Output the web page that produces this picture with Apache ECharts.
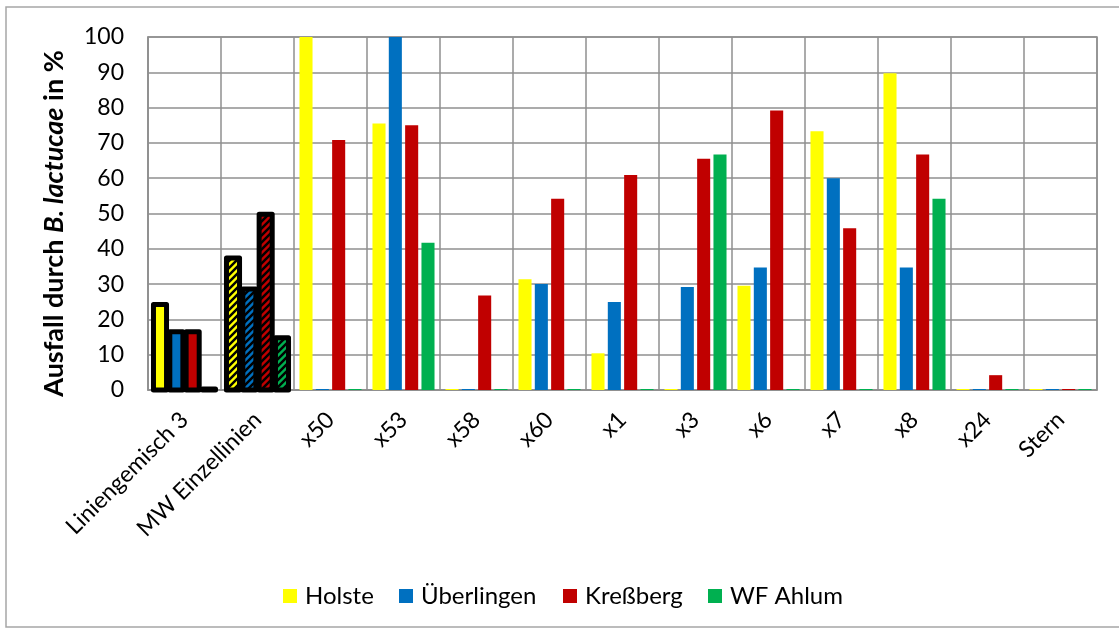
<!DOCTYPE html>
<html>
<head>
<meta charset="utf-8">
<script src="https://cdn.jsdelivr.net/npm/echarts@6/dist/echarts.min.js"></script>
<style>
  html, body { margin: 0; padding: 0; background: #fff; }
  #chart { width: 1119px; height: 630px; }
</style>
</head>
<body>
<div id="chart"></div>
<script>
// Lines / mixtures tested at four sites
const categories = ['Liniengemisch 3', 'MW Einzellinien', 'x50', 'x53', 'x58', 'x60', 'x1', 'x3', 'x6', 'x7', 'x8', 'x24', 'Stern'];

// Loss caused by B. lactucae (%) per site
const holste      = [24.2, 37.4, 100, 75.5, 0, 31.4, 10.4, 0, 29.5, 73.3, 89.7, 0, 0];
const ueberlingen = [16.5, 28.6, 0, 100, 0, 30.0, 24.9, 29.2, 34.7, 60.0, 34.7, 0, 0];
const kressberg   = [16.5, 49.8, 70.8, 75.0, 26.8, 54.2, 60.9, 65.5, 79.2, 45.8, 66.7, 4.2, 0];
const wfAhlum     = [0, 14.8, 0, 41.7, 0, 0, 0, 66.7, 0, 0, 54.2, 0, 0];

const yTicks = [0, 10, 20, 30, 40, 50, 60, 70, 80, 90, 100];

const seriesDefs = [
  { name: 'Holste', color: '#FFFF00', data: holste },
  { name: 'Überlingen', color: '#0070C0', data: ueberlingen },
  { name: 'Kreßberg', color: '#C00000', data: kressberg },
  { name: 'WF Ahlum', color: '#00B050', data: wfAhlum }
];

// categories drawn with a heavy outline (the mixture and the mean of single lines)
const outlinedCats = [0, 1];
const hatchedCats = [1];

const FONT = 'Lato';
const GRID = '#8f8f8f';
const CAT_GAP = 0.15;
const BAR_GAP = 0.25;

// diagonal black hatch on top of the series colour
function hatch(color) {
  const s = 7;
  const c = document.createElement('canvas');
  c.width = s; c.height = s;
  const g = c.getContext('2d');
  g.fillStyle = color;
  g.fillRect(0, 0, s, s);
  g.strokeStyle = '#000';
  g.lineWidth = 2.5;
  g.beginPath();
  g.moveTo(-2, s + 2); g.lineTo(s + 2, -2);
  g.moveTo(-2, 2); g.lineTo(2, -2);
  g.moveTo(s - 2, s + 2); g.lineTo(s + 2, s - 2);
  g.stroke();
  return { image: c, repeat: 'repeat' };
}

function buildData(def) {
  return def.data.map((v, i) => {
    if (hatchedCats.includes(i)) {
      return { value: v, itemStyle: { color: hatch(def.color) } };
    }
    return v;
  });
}

// outline records: [category index, series index, value]
const outlineData = [];
outlinedCats.forEach(ci => {
  seriesDefs.forEach((def, si) => outlineData.push([ci, si, def.data[ci]]));
});

function renderOutline(params, api) {
  const cat = api.value(0);
  const si = api.value(1);
  const v = api.value(2);
  const n = seriesDefs.length;
  const catW = api.size([1, 0])[0];
  const band = catW * (1 - CAT_GAP);
  const bw = band / (n + (n - 1) * BAR_GAP);
  const base = api.coord([cat, 0]);
  const top = api.coord([cat, v]);
  const x = base[0] - band / 2 + si * bw * (1 + BAR_GAP);
  const h = Math.max(base[1] - top[1], 1);
  return {
    type: 'rect',
    shape: { x: x, y: base[1] - h, width: bw, height: h },
    style: { fill: 'none', stroke: '#000', lineWidth: 5, lineJoin: 'round' }
  };
}

const chart = echarts.init(document.getElementById('chart'), null, { renderer: 'canvas' });

// one legend block per entry so that each entry sits at its own place
const legendLefts = [283, 399, 563, 708];

chart.setOption({
  animation: false,
  backgroundColor: '#fff',
  textStyle: { fontFamily: FONT },
  graphic: [{
    type: 'rect',
    shape: { x: 6, y: 7, width: 1200, height: 620 },
    style: { fill: 'none', stroke: '#a6a6a6', lineWidth: 1.5 },
    silent: true,
    z: -1
  }],
  grid: {
    left: 148, right: 22, top: 37, bottom: 240, containLabel: false,
    show: true, borderColor: GRID, borderWidth: 1.5, backgroundColor: 'transparent'
  },
  legend: seriesDefs.map((def, i) => ({
    left: legendLefts[i],
    top: 584,
    padding: 0,
    itemWidth: 14,
    itemHeight: 14,
    icon: 'rect',
    textStyle: { fontFamily: FONT, fontSize: 24, color: '#000', padding: [0, 0, 0, 3] },
    data: [def.name]
  })),
  xAxis: {
    type: 'category',
    data: categories,
    axisLine: { show: true, lineStyle: { color: GRID, width: 1.5 } },
    axisTick: { show: false },
    splitLine: { show: true, interval: 0, lineStyle: { color: GRID, width: 1.5 } },
    axisLabel: {
      interval: 0,
      rotate: 45,
      margin: 26,
      fontFamily: FONT,
      fontSize: 23,
      color: '#000'
    }
  },
  yAxis: {
    type: 'value',
    min: yTicks[0],
    max: yTicks[yTicks.length - 1],
    interval: 10,
    axisLine: { show: true, lineStyle: { color: GRID, width: 1.5 } },
    axisTick: { show: false },
    splitLine: { show: true, lineStyle: { color: GRID, width: 1.5 } },
    axisLabel: { fontFamily: FONT, fontSize: 23, color: '#000', margin: 24 },
    name: '{b|Ausfall durch }{bi|B. lactucae}{b| in %}',
    nameLocation: 'middle',
    nameRotate: 90,
    nameGap: 80,
    nameTextStyle: {
      padding: [0, 20, 0, 0],
      rich: {
        b: { fontFamily: FONT, fontSize: 27, fontWeight: 'bold', color: '#000' },
        bi: { fontFamily: FONT, fontSize: 27, fontWeight: 'bold', fontStyle: 'italic', color: '#000' }
      }
    }
  },
  series: seriesDefs.map(def => ({
    name: def.name,
    type: 'bar',
    barGap: (BAR_GAP * 100) + '%',
    barCategoryGap: (CAT_GAP * 100) + '%',
    barMinHeight: 1,
    itemStyle: { color: def.color },
    data: buildData(def)
  })).concat([{
    type: 'custom',
    renderItem: renderOutline,
    encode: { x: 0, y: 2 },
    data: outlineData,
    z: 5,
    silent: true
  }])
});
</script>
</body>
</html>
